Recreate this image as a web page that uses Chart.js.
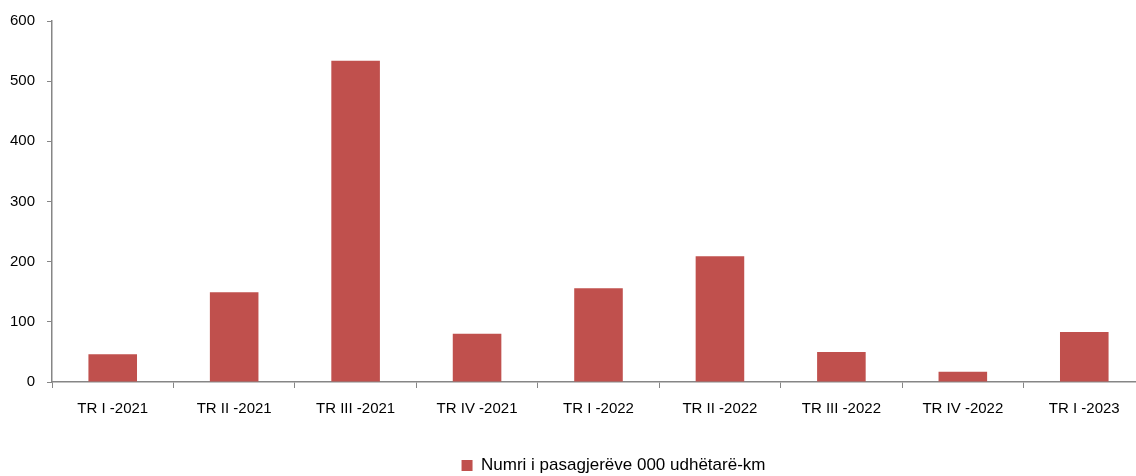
<!DOCTYPE html>
<html>
<head>
<meta charset="utf-8">
<script src="https://cdn.jsdelivr.net/npm/chart.js@4"></script>
<style>
  html, body { margin: 0; padding: 0; background: #fff; overflow: hidden; }
  #wrap { width: 1145px; height: 476px; }
</style>
</head>
<body>
<div id="wrap"><canvas id="chart"></canvas></div>
<script>
// Dữ liệu
const categories = ['TR I -2021', 'TR II -2021', 'TR III -2021', 'TR IV -2021', 'TR I -2022',
  'TR II -2022', 'TR III -2022', 'TR IV -2022', 'TR I -2023'];
const passengers = [46, 149, 534, 80, 156, 209, 50, 17, 83];
const seriesLabel = 'Numri i pasagjerëve 000 udhëtarë-km';

const FONT = 'Liberation Sans, Arial, sans-serif';
const AXIS = '#868686';

// Dời legend sang phải và xuống dưới như bản gốc
const legendShift = {
  id: 'legendShift',
  afterLayout(chart) {
    const lg = chart.legend;
    const dx = 41, dy = 10;
    lg.left += dx; lg.right += dx;
    lg.top += dy; lg.bottom += dy;
  }
};

const ctx = document.getElementById('chart').getContext('2d');
new Chart(ctx, {
  type: 'bar',
  data: {
    labels: categories,
    datasets: [{
      label: seriesLabel,
      data: passengers,
      backgroundColor: '#C0504D',
      borderWidth: 0,
      categoryPercentage: 0.8,
      barPercentage: 0.5
    }]
  },
  plugins: [legendShift],
  options: {
    responsive: true,
    maintainAspectRatio: false,
    animation: false,
    layout: { padding: { top: 20, right: 0, bottom: 2, left: 0 } },
    plugins: {
      tooltip: { enabled: false },
      legend: {
        position: 'bottom',
        labels: {
          color: '#000',
          font: { family: FONT, size: 17 },
          boxWidth: 11,
          boxHeight: 11,
          padding: 4
        }
      }
    },
    scales: {
      x: {
        offset: true,
        afterFit(scale) { scale.height = 61; },
        grid: { offset: true, drawOnChartArea: false, drawTicks: true, tickLength: 6, color: AXIS },
        border: { color: AXIS, width: 1.5 },
        ticks: { color: '#000', font: { family: FONT, size: 15 }, padding: 12, maxRotation: 0 }
      },
      y: {
        min: 0,
        max: 600,
        afterFit(scale) { scale.width = 52; },
        grid: { drawOnChartArea: false, drawTicks: true, tickLength: 5, color: AXIS },
        border: { color: AXIS, width: 1.5 },
        ticks: { stepSize: 100, color: '#000', font: { family: FONT, size: 15 }, padding: 12 }
      }
    }
  }
});
</script>
</body>
</html>
